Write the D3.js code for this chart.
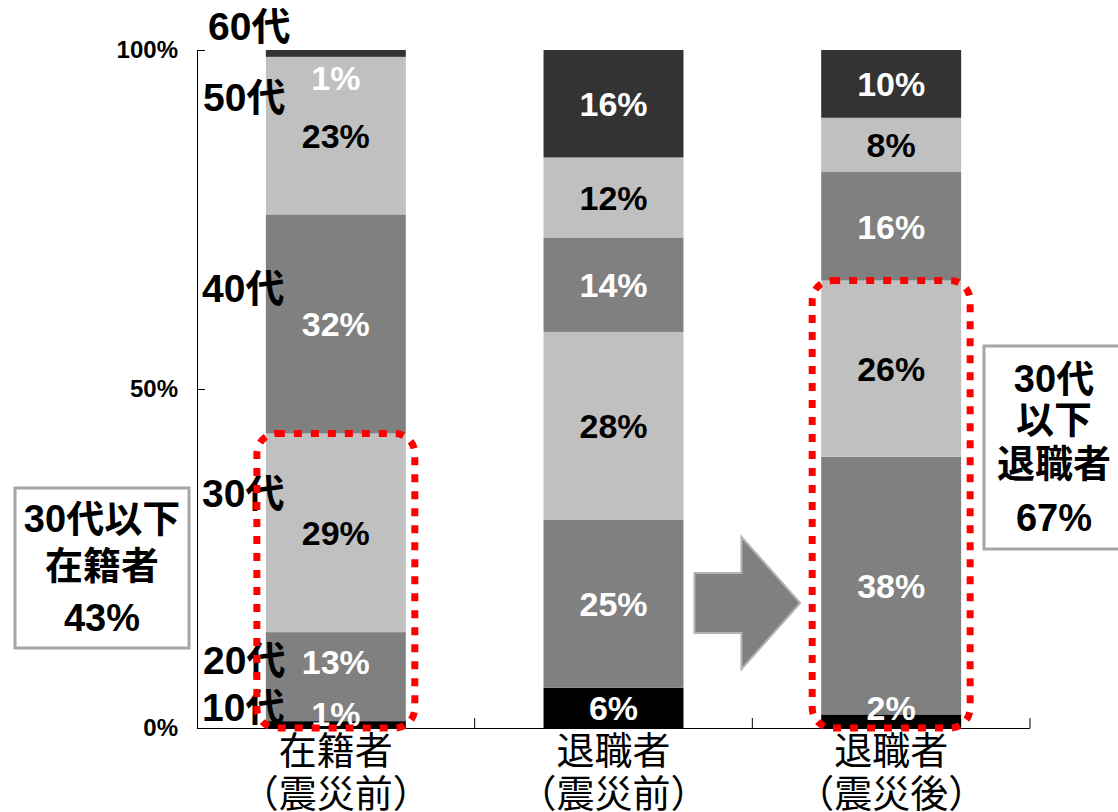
<!DOCTYPE html>
<html>
<head>
<meta charset="utf-8">
<script src="https://cdn.jsdelivr.net/npm/d3@7/dist/d3.min.js"></script>
<style>
  html, body { margin: 0; padding: 0; background: #fff; }
  svg { display: block; }
  text { font-family: "Liberation Sans", Arial, "Noto Sans CJK JP", sans-serif; }
</style>
</head>
<body>
<svg id="chart" width="1118" height="812"></svg>
<script>
// Age bands, bottom to top of each stacked bar
const ages = ["10代", "20代", "30代", "40代", "50代", "60代"];
// Categories (first line / second line of the axis label)
const categories = ["在籍者", "退職者", "退職者"];
const categorySub = ["（震災前）", "（震災前）", "（震災後）"];
// Share of each age band (%), same order as ages
const enrolledBefore = [1, 13, 29, 32, 23, 1];
const retiredBefore = [6, 25, 28, 14, 12, 16];
const retiredAfter = [2, 38, 26, 16, 8, 10];
// Y axis ticks
const yTicks = [0, 0.5, 1];
const yTickLabels = ["0%", "50%", "100%"];
// Callout texts
const leftCallout = ["30代以下", "在籍者", "43%"];
const rightCallout = ["30代", "以下", "退職者", "67%"];

const seriesValues = [enrolledBefore, retiredBefore, retiredAfter];
const rows = categories.map((c, i) => {
  const r = { key: i };
  ages.forEach((a, j) => r[a] = seriesValues[i][j]);
  return r;
});

const fillColor = { "10代": "#000000", "20代": "#808080", "30代": "#c0c0c0",
                    "40代": "#808080", "50代": "#c0c0c0", "60代": "#333333" };
const labelColor = { "10代": "#ffffff", "20代": "#ffffff", "30代": "#000000",
                     "40代": "#ffffff", "50代": "#000000", "60代": "#ffffff" };

const svg = d3.select("#chart");
const x0 = 197, x1 = 1030, yTop = 50, yBottom = 728;

const x = d3.scaleBand().domain(d3.range(categories.length)).range([x0, x1]).paddingInner(0.496).paddingOuter(0.248);
const y = d3.scaleLinear().domain([0, 1]).range([yBottom, yTop]);

const stack = d3.stack().keys(ages).offset(d3.stackOffsetExpand);
const layers = stack(rows);

// Bars
const g = svg.append("g");
layers.forEach(layer => {
  g.selectAll(null).data(layer).enter().append("rect")
    .attr("x", d => x(d.data.key))
    .attr("width", x.bandwidth())
    .attr("y", d => y(d[1]))
    .attr("height", d => y(d[0]) - y(d[1]))
    .attr("fill", fillColor[layer.key]);
});

// Axes
const yAxis = d3.axisRight(y).tickValues(yTicks).tickSize(8).tickFormat("");
const ya = svg.append("g").attr("transform", `translate(${x0},0)`).call(yAxis);
ya.select(".domain").attr("d", `M0.5,${yTop}V${yBottom}`).attr("stroke", "#000");
ya.selectAll(".tick line").attr("stroke", "#000");
svg.selectAll(null).data(yTicks).enter().append("text")
  .attr("x", 178).attr("y", d => y(d) + 8)
  .attr("text-anchor", "end")
  .attr("font-size", 24).attr("font-weight", "bold")
  .text((d, i) => yTickLabels[i]);

svg.append("line").attr("x1", x0).attr("x2", x1).attr("y1", yBottom + 0.5).attr("y2", yBottom + 0.5)
  .attr("stroke", "#000");
const boundaries = d3.range(1, categories.length + 1).map(i => x0 + x.step() * i);
svg.selectAll(null).data(boundaries).enter().append("line")
  .attr("x1", d => d).attr("x2", d => d)
  .attr("y1", yBottom - 10).attr("y2", yBottom)
  .attr("stroke", "#000");

// Category labels
categories.forEach((c, i) => {
  const cx = x(i) + x.bandwidth() / 2;
  svg.append("text").attr("x", cx).attr("y", 764).attr("text-anchor", "middle")
    .attr("font-size", 38).attr("font-family", "'Noto Sans CJK JP', sans-serif").text(c);
  svg.append("text").attr("x", cx).attr("y", 807).attr("text-anchor", "middle")
    .attr("font-size", 38).attr("font-family", "'Noto Sans CJK JP', sans-serif").text(categorySub[i]);
});

// Value labels on segments
const segFont = 34;
const labelShift = { "0|20代": -15 };
layers.forEach((layer, li) => {
  layer.forEach((d, ci) => {
    const top = y(d[1]), bot = y(d[0]);
    const h = bot - top;
    let cy = (top + bot) / 2;
    if (h < 30 && li === 0) cy = top - 7;
    else if (h < 30 && li === layers.length - 1) cy = bot + 21;
    cy += labelShift[ci + "|" + layer.key] || 0;
    svg.append("text")
      .attr("x", x(ci) + x.bandwidth() / 2)
      .attr("y", cy + segFont * 0.36)
      .attr("text-anchor", "middle")
      .attr("font-size", segFont).attr("font-weight", "bold")
      .attr("fill", labelColor[layer.key])
      .text(seriesValues[ci][li] + "%");
  });
});

// Age band names beside the first bar
const ageShift = [-18, -17, -40, -36, -39, -27];
const ageIndent = [202, 203, 202, 202, 203, 208];
layers.forEach((layer, li) => {
  const d = layer[0];
  const cy = (y(d[0]) + y(d[1])) / 2 + ageShift[li];
  svg.append("text")
    .attr("x", ageIndent[li]).attr("y", cy + 14)
    .attr("font-size", 39).attr("font-weight", "bold")
    .attr("fill", "#000")
    .text(layer.key);
});

// Dotted highlight around 30s and younger
function highlight(ci, upto) {
  const top = y(layers[upto][ci][1]);
  svg.append("rect")
    .attr("x", x(ci) - 9).attr("width", x.bandwidth() + 18)
    .attr("y", top).attr("height", yBottom - top)
    .attr("rx", 20).attr("ry", 20)
    .attr("fill", "none").attr("stroke", "#ff0000")
    .attr("stroke-width", 7).attr("stroke-dasharray", "8 9");
}
highlight(0, 2);
highlight(2, 2);

// Arrow between the two retiree bars
(function () {
  const ax = x(1) + x.bandwidth() + 11;
  const tip = x(2) - 21;
  const cy = 603;
  const sh = 30, hh = 66, hx = ax + 47;
  const pts = [[ax, cy - sh], [hx, cy - sh], [hx, cy - hh], [tip, cy], [hx, cy + hh], [hx, cy + sh], [ax, cy + sh]];
  svg.append("polygon").attr("points", pts.map(p => p.join(",")).join(" "))
    .attr("fill", "#808080").attr("stroke", "#b3b3b3").attr("stroke-width", 2);
})();

// Callout boxes
function callout(bx, by, bw, bh, lines, baselines) {
  svg.append("rect").attr("x", bx).attr("y", by).attr("width", bw).attr("height", bh)
    .attr("fill", "#fff").attr("stroke", "#a6a6a6").attr("stroke-width", 3);
  lines.forEach((t, i) => {
    svg.append("text").attr("x", bx + bw / 2).attr("y", baselines[i])
      .attr("text-anchor", "middle").attr("font-size", 38).attr("font-weight", "bold")
      .text(t);
  });
}
callout(15, 488, 174, 160, leftCallout, [532, 579, 631]);
callout(984, 346, 140, 203, rightCallout, [392, 433, 477, 531]);
</script>
</body>
</html>
